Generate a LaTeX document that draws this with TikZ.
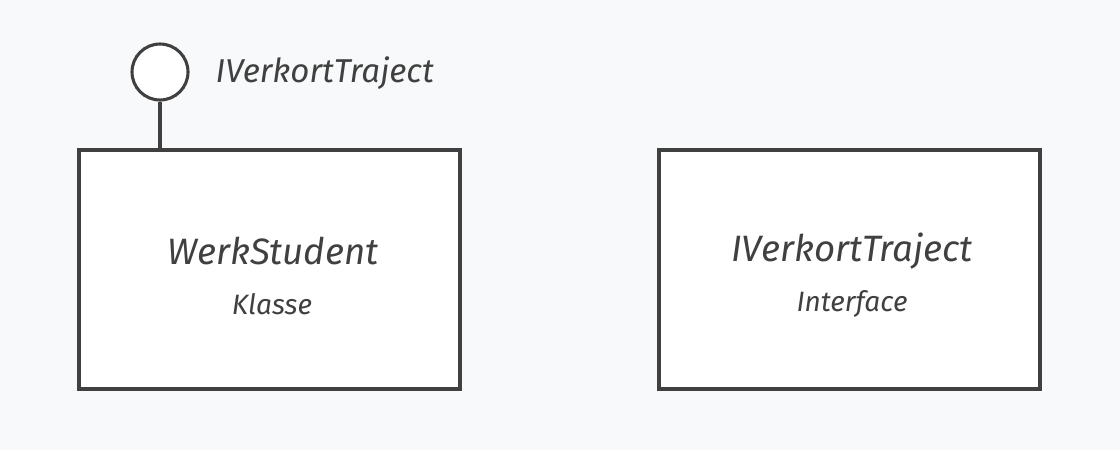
\documentclass[tikz,border=0pt]{standalone}
\usepackage{fontspec}
\setmainfont{Fira Sans}
\usetikzlibrary{positioning}
\definecolor{ink}{HTML}{404040}
\definecolor{paper}{HTML}{F8F9FA}
\tikzset{
    classbox/.style={draw=ink, fill=white, line width=2.3pt, minimum width=285.75pt, minimum height=179.25pt, inner sep=0},
    classname/.style={text=ink, font=\fontsize{27.5}{32}\selectfont\itshape},
    classkind/.style={text=ink, font=\fontsize{21}{25}\selectfont\itshape\light},
    lolly/.style={draw=ink, fill=white, line width=2.3pt, circle, minimum size=42pt, inner sep=0},
}
\newcommand{\light}{\fontseries{l}\selectfont}
\begin{document}
\begin{tikzpicture}[x=0.75pt, y=-0.75pt]
		\fill[paper] (0,0) rectangle (1120,450);
		\useasboundingbox (0,0) rectangle (1120,450);
		\node[classbox] (student) at (269.5,269.5) {};
		\node[classbox] (traject) at (849.5,269.5) {};
		\node[classname] (studentname) at (273,251) {WerkStudent};
		\node[classkind] (studentkind) at (272,304) {Klasse};
		\node[classname] (trajectname) at (852,251) {IVerkortTraject};
		\node[classkind] (trajectkind) at (852,304) {Interface};
		\node[lolly] (port) at (160,72) {};
		\node[classname, anchor=west, font=\fontsize{24.8}{29}\selectfont\itshape] (portname) at (211,73) {IVerkortTraject};
		\draw[ink, line width=2.3pt] (port.south) -- (port.south |- student.north);
	\end{tikzpicture}
\end{document}
